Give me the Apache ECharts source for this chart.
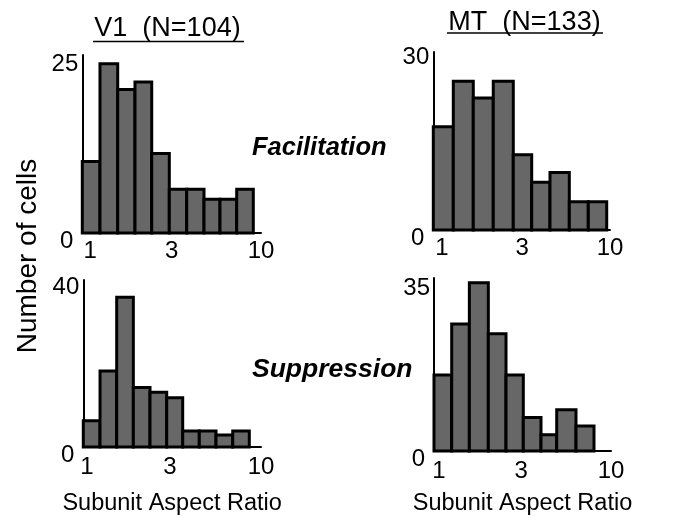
<!DOCTYPE html>
<html>
<head>
<meta charset="utf-8">
<script src="https://cdn.jsdelivr.net/npm/echarts@6/dist/echarts.min.js"></script>
<style>
html,body{margin:0;padding:0;background:#fff;}
#chart{width:679px;height:517px;}
</style>
</head>
<body>
<div id="chart"></div>
<script>
// ---- Data ----
const panelTitles = ['V1  (N=104)', 'MT  (N=133)'];
const rowLabels = ['Facilitation', 'Suppression'];
const yAxisTitle = 'Number of cells';
const xAxisTitle = 'Subunit Aspect Ratio';
const xTickLabels = [1, 3, 10];

// bin edges (subunit aspect ratio) and counts for each panel
const v1FacEdges = [0.899, 1.141, 1.449, 1.829, 2.292, 2.905, 3.673, 4.638, 5.754, 7.206, 9.014];
const v1FacCounts = [10.6, 25.1, 21.3, 22.4, 11.8, 6.5, 6.5, 5.0, 5.0, 6.5];
const v1FacYTicks = [0, 25];

const mtFacEdges = [0.888, 1.168, 1.536, 2.02, 2.657, 3.42, 4.394, 5.726, 7.427, 9.559];
const mtFacCounts = [18.0, 25.9, 23.0, 25.9, 13.1, 8.3, 10.0, 4.9, 4.9];
const mtFacYTicks = [0, 30];

const v1SupEdges = [0.952, 1.188, 1.481, 1.846, 2.302, 2.871, 3.548, 4.419, 5.513, 6.878, 8.566];
const v1SupCounts = [6.6, 19.0, 37.5, 14.9, 13.7, 12.3, 4.0, 4.0, 3.0, 4.0];
const v1SupYTicks = [0, 40];

const mtSupEdges = [0.935, 1.185, 1.501, 1.935, 2.452, 3.091, 3.917, 4.834, 6.259, 7.964];
const mtSupCounts = [16.4, 27.4, 36.3, 25.3, 16.4, 7.2, 3.5, 8.9, 5.4];
const mtSupYTicks = [0, 35];

// ---- Layout ----
const FONT = 'Liberation Sans, Arial, sans-serif';
const panels = [
  {edges: v1FacEdges, counts: v1FacCounts, yTicks: v1FacYTicks, grid: {left: 82.3, top: 55, width: 178.7, height: 178}, xMin: 0.899, yMax: 26.4, xMargin: 6, name: false},
  {edges: mtFacEdges, counts: mtFacCounts, yTicks: mtFacYTicks, grid: {left: 433.3, top: 52, width: 176.7, height: 178}, xMin: 0.888, yMax: 31, xMargin: 6, name: false},
  {edges: v1SupEdges, counts: v1SupCounts, yTicks: v1SupYTicks, grid: {left: 83.3, top: 280, width: 177.7, height: 176}, xMin: 0.952, yMax: 41.8, xMargin: 8, name: true, nameGap: 45},
  {edges: mtSupEdges, counts: mtSupCounts, yTicks: mtSupYTicks, grid: {left: 434, top: 278, width: 177, height: 177}, xMin: 0.935, yMax: 37.3, xMargin: 8, name: true, nameGap: 41}
];

function binData(edges, counts) {
  return counts.map((c, i) => [edges[i], edges[i + 1], c]);
}

const grids = [], xAxes = [], yAxes = [], series = [];
panels.forEach((p, i) => {
  grids.push(Object.assign({containLabel: false}, p.grid));
  xAxes.push({
    type: 'log', logBase: 10, gridIndex: i, min: p.xMin, max: 10,
    axisLine: {show: true, lineStyle: {color: '#000', width: 2}},
    axisTick: {show: false}, splitLine: {show: false},
    axisLabel: {customValues: xTickLabels, color: '#000', fontSize: 24, fontFamily: FONT, margin: p.xMargin,
      formatter: v => String(Math.round(v))},
    name: p.name ? xAxisTitle : '', nameLocation: 'middle', nameGap: p.nameGap || 0,
    nameTextStyle: {color: '#000', fontSize: 23.5, fontFamily: FONT}
  });
  yAxes.push({
    type: 'value', gridIndex: i, min: 0, max: p.yMax,
    axisLine: {show: true, lineStyle: {color: '#000', width: 2}},
    axisTick: {show: false}, splitLine: {show: false},
    axisLabel: {customValues: p.yTicks, color: '#000', fontSize: 24, fontFamily: FONT, margin: 4,
      formatter: v => v === 0 ? '{z|0}' : '{t|' + v + '}',
      rich: {z: {fontSize: 24, fontFamily: FONT, color: '#000', padding: [16, 5, 0, 0]},
             t: {fontSize: 24, fontFamily: FONT, color: '#000'}}}
  });
  series.push({
    type: 'custom', xAxisIndex: i, yAxisIndex: i,
    encode: {x: [0, 1], y: 2},
    data: binData(p.edges, p.counts),
    renderItem: function (params, api) {
      const a = api.coord([api.value(0), 0]);
      const b = api.coord([api.value(1), api.value(2)]);
      return {
        type: 'rect',
        shape: {x: a[0], y: b[1], width: b[0] - a[0], height: a[1] - b[1]},
        style: {fill: '#676767', stroke: '#000', lineWidth: 3}
      };
    }
  });
});

const chart = echarts.init(document.getElementById('chart'), null, {renderer: 'canvas'});
chart.setOption({
  backgroundColor: '#fff',
  animation: false,
  grid: grids, xAxis: xAxes, yAxis: yAxes, series: series,
  graphic: [
    {type: 'text', x: 167.5, y: 28.5, style: {text: panelTitles[0], font: '27px ' + FONT, fill: '#000', align: 'center', verticalAlign: 'middle'}},
    {type: 'line', shape: {x1: 93, y1: 41.5, x2: 244, y2: 41.5}, style: {stroke: '#000', lineWidth: 1.5}},
    {type: 'text', x: 524.5, y: 22.5, style: {text: panelTitles[1], font: '27px ' + FONT, fill: '#000', align: 'center', verticalAlign: 'middle'}},
    {type: 'line', shape: {x1: 447, y1: 33, x2: 603, y2: 33}, style: {stroke: '#000', lineWidth: 1.5}},
    {type: 'text', x: 252, y: 148, style: {text: rowLabels[0], font: 'italic bold 25.5px ' + FONT, fill: '#000', align: 'left', verticalAlign: 'middle'}},
    {type: 'text', x: 252, y: 370, style: {text: rowLabels[1], font: 'italic bold 26.5px ' + FONT, fill: '#000', align: 'left', verticalAlign: 'middle'}},
    {type: 'text', x: 28, y: 256, rotation: Math.PI / 2, style: {text: yAxisTitle, font: '28px ' + FONT, fill: '#000', align: 'center', verticalAlign: 'middle'}}
  ]
});
</script>
</body>
</html>
